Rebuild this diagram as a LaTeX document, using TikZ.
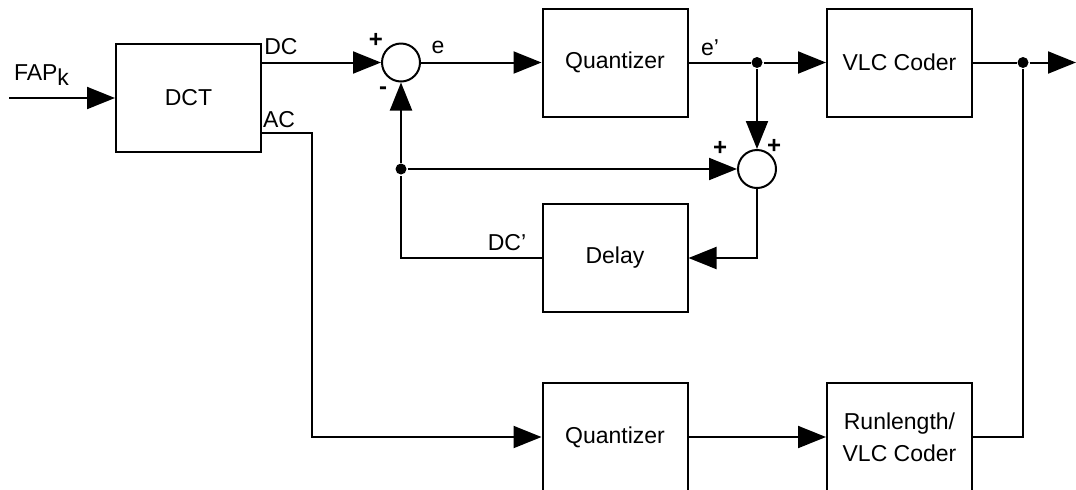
\documentclass[tikz,border=0pt]{standalone}
\usepackage{fontspec}
\setmainfont{Liberation Sans}
\usetikzlibrary{arrows.meta,positioning,calc}

\begin{document}
\begin{tikzpicture}[x=0.5pt,y=-0.5pt,line width=1pt,
  block/.style={draw, minimum width=72.5pt, minimum height=54pt, align=center, font=\fontsize{11.5}{16}\selectfont},
  sumnode/.style={draw, circle, minimum size=19pt, inner sep=0pt},
  dot/.style={fill=black, circle, inner sep=0pt, minimum size=5.5pt},
  lbl/.style={font=\fontsize{11.5}{14}\selectfont, inner sep=0pt},
  sgn/.style={font=\fontsize{12}{14}\selectfont\bfseries, inner sep=0pt},
  sig/.style={-{Triangle[length=14pt,width=11pt]}}]
\useasboundingbox (0,0) rectangle (1076,489);
% Blocks
\node[block] (dct) at (188.5,98) {DCT};
\node[block] (q1) at (615,62.5) {Quantizer};
\node[block] (vlc) at (899.5,62.5) {VLC Coder};
\node[block] (delay) at (615,258) {Delay};
\node[block] (q2) at (615,437) {Quantizer};
\node[block] (rl) at (899.5,437) {Runlength/\\VLC Coder};
% Summing points and branch dots
\node[sumnode] (s1) at (401,62.5) {};
\node[sumnode] (s2) at (757,169) {};
\node[dot] (j1) at (757,62.5) {};
\node[dot] (j2) at (1023,62.5) {};
\node[dot] (j3) at (401,169) {};
\coordinate (in) at (9,98);
\coordinate (out) at (1076,62.5);
\coordinate (acbend) at (312,133);
% Upper DC path
\draw[sig] (in) -- (dct);
\draw[sig] (dct.east |- s1) -- (s1);
\draw[sig] (s1) -- (q1);
\draw (q1) -- (j1);
\draw[sig] (j1) -- (vlc);
\draw (vlc) -- (j2);
\draw[sig] (j2) -- (out);
% Prediction loop
\draw[sig] (j1) -- (s2);
\draw[sig] (j3) -- (s2);
\draw[sig] (s2) |- (delay);
\draw (delay) -| (j3);
\draw[sig] (j3) -- (s1);
% AC path
\draw[sig] (dct.east |- acbend) -- (acbend) |- (q2);
\draw[sig] (q2) -- (rl);
\draw (rl) -| (j2);
% Labels
\node[lbl, anchor=west] (fap) at (13,75) {FAP\raisebox{-0.45ex}{k}};
\node[lbl] (dclbl) at (281,47) {DC};
\node[lbl] (aclbl) at (279,120) {AC};
\node[lbl] (elbl) at (438,47) {e};
\node[lbl] (eplbl) at (710,48) {e'};
\node[lbl] (dcplbl) at (507,243) {DC'};
\node[sgn] (p1) at (376,40) {+};
\node[sgn] (m1) at (383,91) {-};
\node[sgn] (p2) at (720,148) {+};
\node[sgn] (p3) at (774,146) {+};
\end{tikzpicture}
\end{document}
